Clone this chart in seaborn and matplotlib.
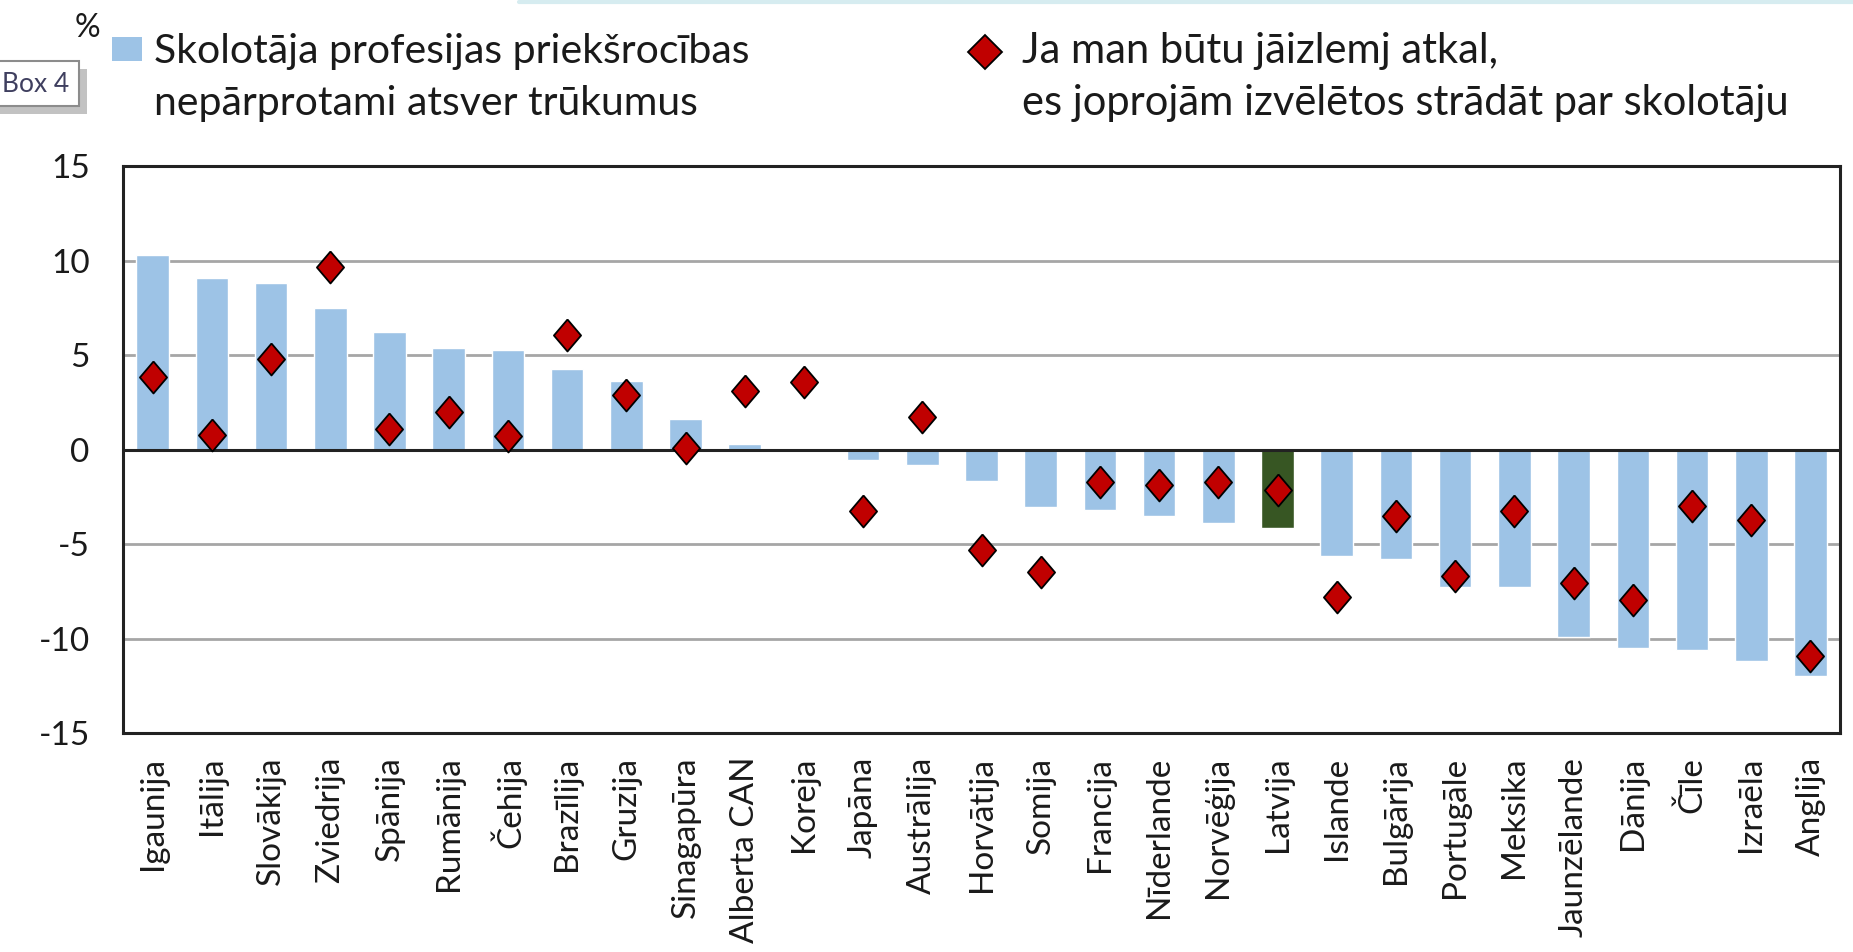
import numpy as np
import pandas as pd
import matplotlib
matplotlib.use("Agg")
import matplotlib.pyplot as plt
from matplotlib.patches import Rectangle
from matplotlib.lines import Line2D
import seaborn as sns

# data (%)
countries = ['Igaunija', 'Itālija', 'Slovākija', 'Zviedrija', 'Spānija', 'Rumānija',
             'Čehija', 'Brazīlija', 'Gruzija', 'Sinagapūra', 'Alberta CAN', 'Koreja',
             'Japāna', 'Austrālija', 'Horvātija', 'Somija', 'Francija', 'Nīderlande',
             'Norvēģija', 'Latvija', 'Islande', 'Bulgārija', 'Portugāle', 'Meksika',
             'Jaunzēlande', 'Dānija', 'Čīle', 'Izraēla', 'Anglija']
advantages = [10.3, 9.07, 8.83, 7.49, 6.23, 5.36, 5.24, 4.25, 3.62, 1.64, 0.28, 0.0,
              -0.57, -0.81, -1.68, -3.06, -3.18, -3.54, -3.91, -4.17, -5.65, -5.79,
              -7.27, -7.27, -9.92, -10.49, -10.6, -11.21, -11.98]
choose_again = [3.85, 0.75, 4.8, 9.66, 1.11, 1.98, 0.73, 6.07, 2.87, 0.1, 3.1, 3.58,
                -3.24, 1.72, -5.34, -6.46, -1.74, -1.88, -1.74, -2.13, -7.81, -3.5,
                -6.7, -3.24, -7.06, -7.96, -3.0, -3.72, -10.93]
yticks = [-15, -10, -5, 0, 5, 10, 15]

legend_bar = ['Skolotāja profesijas priekšrocības', 'nepārprotami atsver trūkumus']
legend_dot = ['Ja man būtu jāizlemj atkal,', 'es joprojām izvēlētos strādāt par skolotāju']

BAR_COLOR = '#9DC3E6'
HIGHLIGHT = '#375623'
DOT_COLOR = '#C00000'

sns.set_theme(style='white')
plt.rcParams['font.family'] = ['Lato', 'DejaVu Sans']
plt.rcParams['text.color'] = '#1a1a1a'

df = pd.DataFrame({'country': countries, 'adv': advantages, 'again': choose_again})
palette = {c: (HIGHLIGHT if c == 'Latvija' else BAR_COLOR) for c in countries}

fig = plt.figure(figsize=(18.53, 9.52), dpi=100)
ax = fig.add_axes([0.0664, 0.23, 0.9266, 0.5956])

sns.barplot(data=df, x='country', y='adv', hue='country', palette=palette,
            saturation=1, width=0.55, legend=False, ax=ax, zorder=2)

# diamond slightly taller than wide
diamond = [(0, 1), (0.85, 0), (0, -1), (-0.85, 0), (0, 1)]
sns.stripplot(data=df, x='country', y='again', jitter=False, marker=diamond,
              size=23, color=DOT_COLOR, edgecolor='black', linewidth=1.3,
              ax=ax, zorder=4)

ax.set_xlim(-0.5, len(countries) - 0.5)
ax.set_ylim(-15, 15)
ax.set_yticks(yticks)
ax.set_yticklabels([str(t) for t in yticks])
ax.set_xlabel('')
ax.set_ylabel('')

for t in [-10, -5, 5, 10]:
    ax.axhline(t, color='#A6A6A6', lw=2, zorder=1)
ax.axhline(0, color='#222222', lw=2.2, zorder=3)

for s in ax.spines.values():
    s.set_visible(True)
    s.set_color('#222222')
    s.set_linewidth(2.2)

ax.tick_params(axis='y', length=0, pad=24, labelsize=24, labelcolor='#1a1a1a')
ax.tick_params(axis='x', length=0, pad=17, labelsize=24, labelcolor='#1a1a1a',
               rotation=90)

# legend drawn by hand to keep the two-line labels aligned like the original
fig.text(87 / 1853, 1 - 28 / 952, '%', fontsize=23, ha='center', va='center')
fig.add_artist(Rectangle((112 / 1853, 1 - 61 / 952), 30 / 1853, 24 / 952,
                         transform=fig.transFigure, color=BAR_COLOR, lw=0))
fig.text(154 / 1853, 1 - 63 / 952, legend_bar[0], fontsize=29.5, va='baseline')
fig.text(154 / 1853, 1 - 115 / 952, legend_bar[1], fontsize=29.5, va='baseline')

fig.add_artist(Line2D([985 / 1853], [1 - 52 / 952], transform=fig.transFigure,
                      marker='D', markersize=17, color=DOT_COLOR,
                      markeredgecolor='black', markeredgewidth=1.3, linestyle='none'))
fig.text(1022 / 1853, 1 - 63 / 952, legend_dot[0], fontsize=30, va='baseline')
fig.text(1022 / 1853, 1 - 115 / 952, legend_dot[1], fontsize=30, va='baseline')

# little "Box 4" tag, cut at the left edge
fig.add_artist(Rectangle((-10 / 1853, 1 - 114 / 952), 97 / 1853, 45 / 952,
                         transform=fig.transFigure, color='#9a9a9a', lw=0, alpha=0.6))
fig.add_artist(Rectangle((-10 / 1853, 1 - 106 / 952), 89 / 1853, 45 / 952,
                         transform=fig.transFigure, facecolor='white',
                         edgecolor='#8c8c8c', lw=1.5))
fig.text(36 / 1853, 1 - 84 / 952, 'Box 4', fontsize=19, ha='center', va='center',
         color='#3f3f5f')

# faint line along the very top
fig.add_artist(Line2D([0.28, 1.0], [0.998, 0.998], transform=fig.transFigure,
                      color='#d6ecf0', lw=3))

fig.savefig('out.png', dpi=100)
